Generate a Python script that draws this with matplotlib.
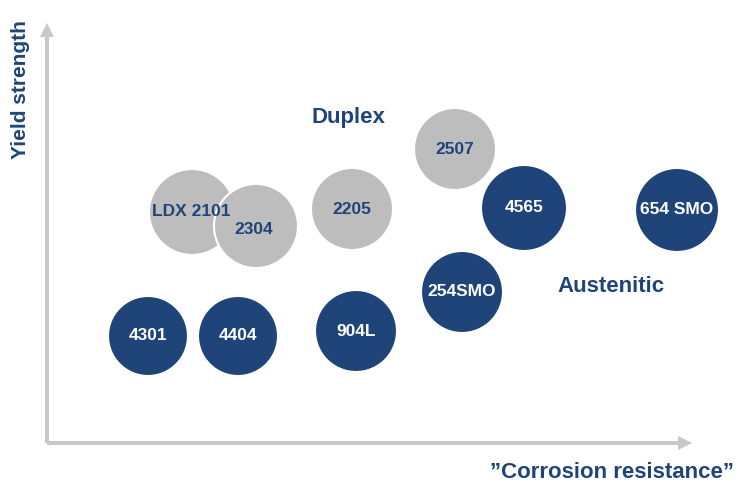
import matplotlib
matplotlib.use("Agg")
import matplotlib.pyplot as plt
from matplotlib.patches import Circle, FancyArrow

plt.rcParams['font.family'] = ['Liberation Sans', 'DejaVu Sans']

NAVY = "#1f4479"
GREY = "#bdbdbd"
AXIS = "#c8c8c8"

# grades: name, corrosion position, yield position, size, family
names = ["4301", "4404", "904L", "254SMO", "4565", "654 SMO",
         "LDX 2101", "2304", "2205", "2507"]
corrosion = [148, 238, 356, 462, 524, 677, 192, 256, 352, 455]
strength = [154, 154, 159, 198, 282, 280, 278, 264, 281, 341]
radius = [40, 40, 41, 41, 43, 42, 43, 42, 41, 41]
family = ["aus", "aus", "aus", "aus", "aus", "aus",
          "dup", "dup", "dup", "dup"]

fig = plt.figure(figsize=(7.4, 4.9), dpi=100)
ax = fig.add_axes([0, 0, 1, 1])
ax.set_xlim(0, 740)
ax.set_ylim(0, 490)
ax.set_aspect("equal")
ax.axis("off")

# axes arrows
ax.add_patch(FancyArrow(47, 47, 0, 420, width=4, head_width=14, head_length=14,
                        color=AXIS, length_includes_head=True, lw=0))
ax.add_patch(FancyArrow(47, 47, 645, 0, width=4, head_width=14, head_length=14,
                        color=AXIS, length_includes_head=True, lw=0))

ax.text(21, 400, "Yield strength", rotation=90, ha="center", va="center",
        color=NAVY, fontsize=15, fontweight="bold")
ax.text(612, 17, "\u201dCorrosion resistance\u201d", ha="center", va="center",
        color=NAVY, fontsize=16, fontweight="bold")

for n, x, y, r, f in zip(names, corrosion, strength, radius, family):
    fc = NAVY if f == "aus" else GREY
    ax.add_patch(Circle((x, y), r, facecolor=fc, edgecolor="white", lw=1.5))
    if f == "aus":
        ax.text(x, y, n, ha="center", va="center", color="white",
                fontsize=12.5, fontweight="bold")

# duplex labels drawn after both overlapping circles
for n, x, y, f in zip(names, corrosion, strength, family):
    if f == "dup":
        dx, dy = 0, 0
        if n == "LDX 2101":
            dx, dy = -1, 0
        if n == "2304":
            dx, dy = -2, -3
        ax.text(x + dx, y + dy, n, ha="center", va="center", color=NAVY,
                fontsize=12.5, fontweight="bold")

ax.text(348, 372, "Duplex", ha="center", va="center", color=NAVY,
        fontsize=16, fontweight="bold")
ax.text(611, 203, "Austenitic", ha="center", va="center", color=NAVY,
        fontsize=16, fontweight="bold")

fig.savefig("out.png", dpi=100)
